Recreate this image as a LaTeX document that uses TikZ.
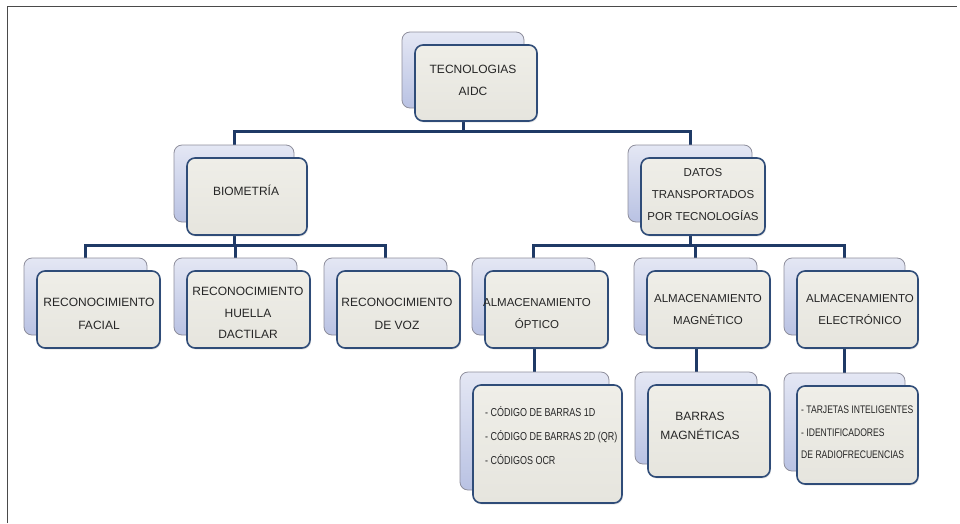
\documentclass[tikz,border=0pt]{standalone}
\usepackage{fontspec}
\setmainfont{Liberation Sans}
\newfontfamily\narrowfont[FakeStretch=0.78]{Liberation Sans}
\usetikzlibrary{shadows}

\definecolor{frontfill}{HTML}{EFEEE8}
\definecolor{frontfillb}{HTML}{E6E5DE}
\definecolor{frontline}{HTML}{2F4C78}
\definecolor{backtop}{HTML}{E4E7F4}
\definecolor{backbot}{HTML}{B9C2E3}
\definecolor{backline}{HTML}{8E8E9C}
\definecolor{connector}{HTML}{1F3A66}
\definecolor{txt}{HTML}{262626}
\definecolor{frameline}{HTML}{4A4A4A}

\pgfdeclarelayer{background}
\pgfsetlayers{background,main}

\tikzset{
  backbox/.style={draw=backline, line width=0.8pt, rounded corners=8pt,
    top color=backtop, bottom color=backbot, inner sep=0pt},
  frontbox/.style={draw=frontline, line width=1.6pt, rounded corners=8pt,
    top color=frontfill, bottom color=frontfillb, inner sep=0pt,
    drop shadow={opacity=0.18, shadow xshift=1pt, shadow yshift=-1.5pt}},
  conn/.style={draw=connector, line width=3pt, line join=miter},
  lbl/.style={inner sep=0pt, text=txt, align=center,
    font=\fontsize{12}{22.5}\selectfont},
  lbls/.style={lbl, font=\fontsize{11.5}{22}\selectfont},
  lstitem/.style={inner sep=0pt, text=txt, align=left, anchor=west},
}

% a front box with its offset companion behind it
\newcommand\boxpair[5]{%
  \node[backbox, minimum width=#4pt, minimum height=#5pt] (#1-b) at ({#2-13},{#3-13}) {};
  \node[frontbox, minimum width=#4pt, minimum height=#5pt] (#1) at (#2,#3) {};
}

\begin{document}
\begin{tikzpicture}[x=1pt,y=-1pt]
  \useasboundingbox (0,0) rectangle (960,523);

  % frame
  \draw[frameline, line width=1.2pt] (7.5,523) -- (7.5,6.5) -- (957,6.5);

  % boxes
  \boxpair{top}{476}{83}{122}{76}
  \boxpair{bio}{247}{196.5}{120}{77}
  \boxpair{datos}{703}{196.5}{124}{77}
  \boxpair{facial}{98.5}{309.5}{123}{77}
  \boxpair{huella}{248.5}{309.5}{123}{77}
  \boxpair{voz}{398.5}{309.5}{123}{77}
  \boxpair{optico}{546.5}{309.5}{123}{77}
  \boxpair{magnet}{708.5}{309.5}{123}{77}
  \boxpair{electr}{857.5}{309.5}{121}{77}
  \boxpair{codigos}{547.5}{444}{149}{118}
  \boxpair{barras}{709}{431}{122}{92}
  \boxpair{tarjetas}{857.5}{435}{121}{98}

  % labels
  \node[lbl] (top-t) at (473,80.5) {TECNOLOGIAS\\AIDC};
  \node[lbl] (bio-t) at (246,190) {BIOMETRÍA};
  \node[lbls] (datos-t) at (703,195) {DATOS\\TRANSPORTADOS\\POR TECNOLOGÍAS};
  \node[lbl] (facial-t) at (99,314) {RECONOCIMIENTO\\FACIAL};
  \node[lbl, font=\fontsize{12}{21.5}\selectfont] (huella-t) at (248,313) {RECONOCIMIENTO\\HUELLA\\DACTILAR};
  \node[lbl] (voz-t) at (397,314) {RECONOCIMIENTO\\DE VOZ};
  \node[lbls] (optico-t) at (537,314) {ALMACENAMIENTO\\ÓPTICO};
  \node[lbls] (magnet-t) at (708,310) {ALMACENAMIENTO\\MAGNÉTICO};
  \node[lbls] (electr-t) at (860,310) {ALMACENAMIENTO\\ELECTRÓNICO};
  \node[lbl, font=\fontsize{12}{19}\selectfont] (barras-t) at (700,426) {BARRAS\\MAGNÉTICAS};
  \node[lstitem, font=\narrowfont\fontsize{11.5}{24}\selectfont] (codigos-t) at (485,436)
    {- CÓDIGO DE BARRAS 1D\\- CÓDIGO DE BARRAS 2D (QR)\\- CÓDIGOS OCR};
  \node[lstitem, font=\narrowfont\fontsize{11}{22.5}\selectfont] (tarjetas-t) at (801,432.5)
    {- TARJETAS INTELIGENTES\\- IDENTIFICADORES\\DE RADIOFRECUENCIAS};

  % connectors, drawn beneath the boxes
  \coordinate (j1) at (0,131);
  \coordinate (j2) at (0,245);
  \begin{pgfonlayer}{background}
    \fill[white] (0,0) rectangle (960,523);
    \draw[conn] (top-b.center |- top.south) -- (top-b.center |- j1);
    \draw[conn] (bio-b.north) -- (bio-b.north |- j1) -- (datos-b.north |- j1) -- (datos-b.north);

    \draw[conn] (bio-b.center |- bio.south) -- (bio-b.center |- j2);
    \draw[conn] (facial-b.north) -- (facial-b.north |- j2) -- (voz-b.north |- j2) -- (voz-b.north);
    \draw[conn] (huella-b.north) -- (huella-b.north |- j2);

    \draw[conn] (datos-b.center |- datos.south) -- (datos-b.center |- j2);
    \draw[conn] (optico-b.north) -- (optico-b.north |- j2) -- (electr-b.north |- j2) -- (electr-b.north);
    \draw[conn] (magnet-b.north) -- (magnet-b.north |- j2);

    \draw[conn] (codigos-b.north |- optico.south) -- (codigos-b.north);
    \draw[conn] (barras-b.north |- magnet.south) -- (barras-b.north);
    \draw[conn] (tarjetas-b.north |- electr.south) -- (tarjetas-b.north);
  \end{pgfonlayer}
\end{tikzpicture}
\end{document}
